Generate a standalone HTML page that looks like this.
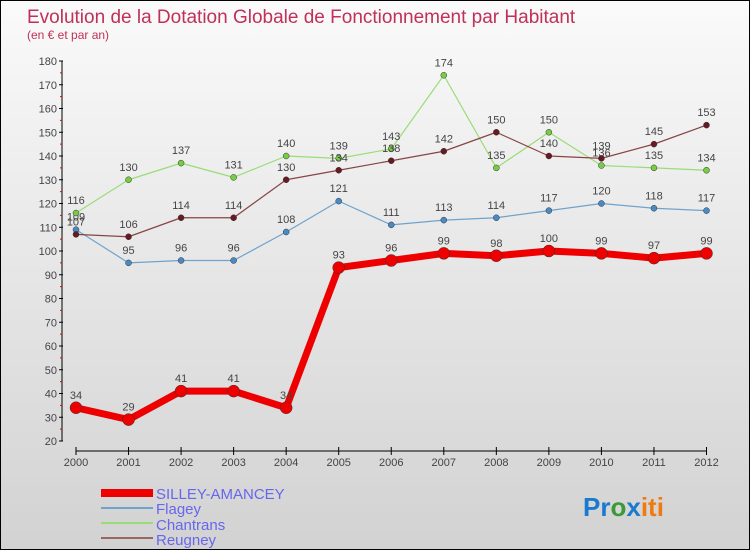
<!DOCTYPE html>
<html><head><meta charset="utf-8">
<style>
body{margin:0;}
#wrap{position:relative;width:748px;height:548px;border:1px solid #000;background:linear-gradient(#fafafa,#d2d2d2);overflow:hidden;font-family:"Liberation Sans",sans-serif;}
svg text{font-family:"Liberation Sans",sans-serif;}
</style></head><body>
<div id="wrap">
<svg id="chart" width="748" height="548">
<text x="26" y="22" font-size="19" fill="#c0305a">Evolution de la Dotation Globale de Fonctionnement par Habitant</text>
<text x="26" y="38" font-size="12" fill="#c0305a">(en € et par an)</text>
<g id="axes"></g>
<g id="series"></g>
<g>
<rect x="100" y="488" width="52" height="8" fill="#e00"/>
<text x="155" y="498" font-size="15" fill="#6666ee">SILLEY-AMANCEY</text>
<line x1="100" x2="152" y1="507" y2="507" stroke="#6fa3cc" stroke-width="2"/>
<text x="155" y="513" font-size="15" fill="#6666ee">Flagey</text>
<line x1="100" x2="152" y1="522" y2="522" stroke="#99dd77" stroke-width="2"/>
<text x="155" y="529" font-size="15" fill="#6666ee">Chantrans</text>
<line x1="100" x2="152" y1="537" y2="537" stroke="#996666" stroke-width="2"/>
<text x="155" y="544" font-size="15" fill="#6666ee">Reugney</text>
</g>
<text x="582" y="515" font-size="26" font-weight="bold"><tspan fill="#1a7ad0">Pr</tspan><tspan fill="#3a9a3a">o</tspan><tspan fill="#1a7ad0">x</tspan><tspan fill="#f07a10">iti</tspan></text>
</svg>
</div>
<script>
const years=[2000,2001,2002,2003,2004,2005,2006,2007,2008,2009,2010,2011,2012];
const silley=[34,29,41,41,34,93,96,99,98,100,99,97,99];
const flagey=[109,95,96,96,108,121,111,113,114,117,120,118,117];
const chantrans=[116,130,137,131,140,139,143,174,135,150,136,135,134];
const reugney=[107,106,114,114,130,134,138,142,150,140,139,145,153];
const yTicks=[20,30,40,50,60,70,80,90,100,110,120,130,140,150,160,170,180];
const NS="http://www.w3.org/2000/svg";
const X=i=>75+i*(630.5/12);
const Y=v=>440-(v-20)*(380/160);
function mk(t,a,p){const e=document.createElementNS(NS,t);for(const k in a)e.setAttribute(k,a[k]);p.appendChild(e);return e;}
const ax=document.getElementById('axes');
let l=mk('line',{x1:61,x2:61,y1:Y(180),y2:Y(20),stroke:'#000','stroke-width':1},ax);


l=mk('line',{x1:75,x2:706,y1:450,y2:450,stroke:'#000','stroke-width':1},ax);


yTicks.forEach(v=>{
 mk('line',{x1:58,x2:62,y1:Y(v),y2:Y(v),stroke:'#000'},ax);
 if(v<180)mk('line',{x1:59,x2:61,y1:Y(v+5),y2:Y(v+5),stroke:'#e00'},ax);
 const t=mk('text',{x:56,y:Y(v)+4,'font-size':11,fill:'#444','text-anchor':'end'},ax);
 t.textContent=v;
 
 
});
years.forEach((y,i)=>{
 mk('line',{x1:X(i),x2:X(i),y1:446,y2:454,stroke:'#000'},ax);
 const t=mk('text',{x:X(i),y:465,'font-size':11,fill:'#444','text-anchor':'middle'},ax);
 t.textContent=y;
 
 
});
const sg=document.getElementById('series');
function draw(data,color,dot,w,r,name){
 const g=mk('g',{},sg);
 
 
 const p=mk('polyline',{points:data.map((v,i)=>X(i)+','+Y(v)).join(' '),fill:'none',stroke:color,'stroke-width':w,'stroke-linejoin':'round'},g);
 
 
 data.forEach((v,i)=>{
  const c=mk('circle',{cx:X(i),cy:Y(v),r:r,fill:dot,stroke:'#333','stroke-width':0.5},g);
  
  
  const t=mk('text',{x:X(i),y:Y(v)-9,'font-size':11,fill:'#444','text-anchor':'middle'},g);
  t.textContent=v;
  
  
 });
}
draw(flagey,'#6fa3cc','#4a8ac4',1.2,3,'flagey');
draw(chantrans,'#99dd77','#77cc44',1.2,3,'chantrans');
draw(reugney,'#884444','#661a22',1.2,3,'reugney');
draw(silley,'#ee0000','#ee0000',7,6,'silley');
</script>
</body></html>
